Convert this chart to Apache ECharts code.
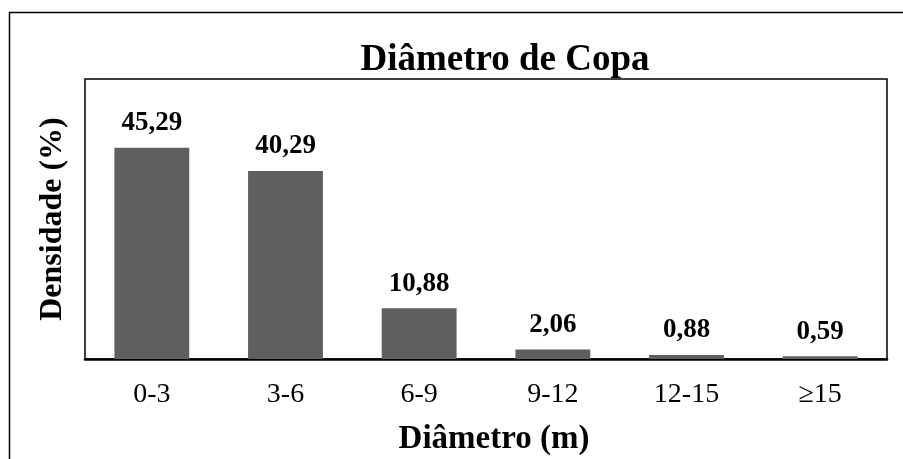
<!DOCTYPE html>
<html>
<head>
<meta charset="utf-8">
<script src="https://cdn.jsdelivr.net/npm/echarts@6/dist/echarts.min.js"></script>
<style>
  html, body { margin: 0; padding: 0; background: #fff; }
  #chart { width: 903px; height: 459px; }
</style>
</head>
<body>
<div id="chart"></div>
<script>
// Crown diameter classes and their density (%)
const classes = ['0-3', '3-6', '6-9', '9-12', '12-15', '\u226515'];
const density = [45.29, 40.29, 10.88, 2.06, 0.88, 0.59];

const serif = '"Liberation Serif", "Times New Roman", serif';

const chart = echarts.init(document.getElementById('chart'), null, { renderer: 'canvas' });

chart.setOption({
  backgroundColor: '#ffffff',
  animation: false,
  title: {
    text: 'Diâmetro de Copa',
    left: 500,
    top: 37,
    textAlign: 'center',
    textStyle: { fontFamily: serif, fontWeight: 'bold', fontSize: 37, color: '#000' }
  },
  graphic: [{
    type: 'rect',
    shape: { x: 9.5, y: 12.5, width: 1200, height: 800 },
    style: { fill: 'none', stroke: '#000', lineWidth: 1.5 },
    silent: true
  }],
  grid: {
    left: 85, top: 79, right: 16, bottom: 100,
    containLabel: false,
    outerBoundsMode: 'none',
    show: true, borderColor: '#000', borderWidth: 1.5,
    backgroundColor: 'transparent'
  },
  xAxis: {
    type: 'category',
    data: classes,
    axisTick: { show: false },
    axisLine: { show: true, lineStyle: { color: '#000', width: 2.5 } },
    axisLabel: { fontFamily: serif, fontSize: 28, color: '#000', margin: 22 },
    name: 'Diâmetro (m)',
    nameLocation: 'middle',
    nameGap: 64,
    nameTextStyle: { fontFamily: serif, fontWeight: 'bold', fontSize: 33, color: '#000', padding: [0, 0, 0, 16] }
  },
  yAxis: {
    type: 'value',
    min: 0, max: 60,
    axisLine: { show: false },
    axisTick: { show: false },
    axisLabel: { show: false },
    splitLine: { show: false },
    name: 'Densidade (%)',
    nameLocation: 'middle',
    nameGap: 16,
    nameTextStyle: { fontFamily: serif, fontWeight: 'bold', fontSize: 32, color: '#000' }
  },
  series: [{
    type: 'bar',
    data: density,
    barWidth: '56%',
    itemStyle: { color: '#5f5f5f' },
    label: {
      show: true,
      position: 'top',
      distance: 11,
      fontFamily: serif, fontWeight: 'bold', fontSize: 27, color: '#000',
      formatter: p => p.value.toFixed(2).replace('.', ',')
    }
  }]
});
</script>
</body>
</html>
